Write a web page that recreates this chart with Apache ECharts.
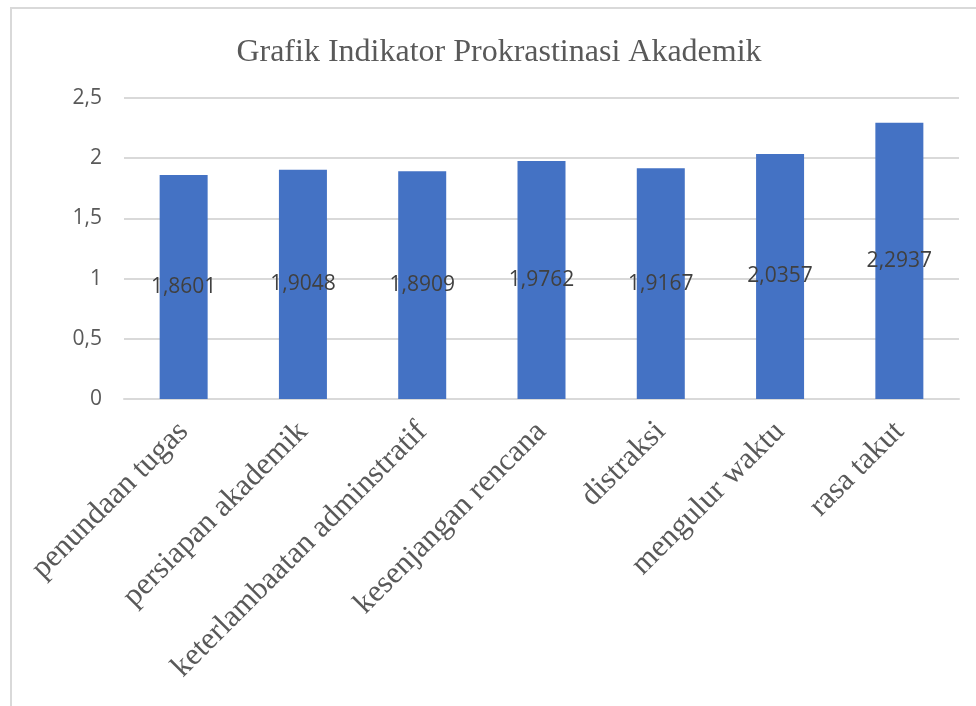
<!DOCTYPE html>
<html>
<head>
<meta charset="utf-8">
<script src="https://cdn.jsdelivr.net/npm/echarts@6/dist/echarts.min.js"></script>
<style>
  html, body { margin: 0; padding: 0; background: #fff; }
  #chart { width: 976px; height: 706px; }
</style>
</head>
<body>
<div id="chart"></div>
<script>
// data
const categories = [
  'penundaan tugas',
  'persiapan akademik',
  'keterlambaatan adminstratif',
  'kesenjangan rencana',
  'distraksi',
  'mengulur waktu',
  'rasa takut'
];
const values = [1.8601, 1.9048, 1.8909, 1.9762, 1.9167, 2.0357, 2.2937];
const yTicks = [0, 0.5, 1, 1.5, 2, 2.5];

const comma = v => String(v).replace('.', ',');

const chart = echarts.init(document.getElementById('chart'));

chart.setOption({
  animation: false,
  backgroundColor: '#fff',
  title: {
    text: 'Grafik Indikator Prokrastinasi Akademik',
    left: 494,
    textAlign: 'center',
    top: 32,
    textStyle: {
      fontFamily: 'Liberation Serif',
      fontSize: 32,
      fontWeight: 'normal',
      color: '#595959'
    }
  },
  graphic: [{
    type: 'rect',
    shape: { x: 11, y: 8, width: 990, height: 720 },
    style: { fill: 'none', stroke: '#d9d9d9', lineWidth: 2 },
    silent: true
  }],
  grid: { left: 124, right: 17, top: 98, bottom: 307 },
  xAxis: {
    type: 'category',
    data: categories,
    axisLine: { show: true, lineStyle: { color: '#d9d9d9', width: 2 } },
    axisTick: { show: false },
    axisLabel: {
      interval: 0,
      rotate: 45,
      margin: 28,
      fontFamily: 'Liberation Serif',
      fontSize: 31,
      color: '#595959'
    }
  },
  yAxis: {
    type: 'value',
    min: yTicks[0],
    max: yTicks[yTicks.length - 1],
    interval: 0.5,
    axisLine: { show: false },
    axisTick: { show: false },
    splitLine: { lineStyle: { color: '#d9d9d9', width: 2 } },
    axisLabel: {
      margin: 22,
      fontFamily: 'Open Sans',
      fontSize: 21,
      color: '#595959',
      formatter: v => comma(v)
    }
  },
  series: [{
    type: 'bar',
    data: values,
    barWidth: 48,
    itemStyle: { color: '#4472c4' },
    label: {
      show: true,
      position: 'inside',
      fontFamily: 'Open Sans',
      fontSize: 21,
      color: '#404040',
      formatter: p => comma(p.value.toFixed(4))
    }
  }]
});
</script>
</body>
</html>
